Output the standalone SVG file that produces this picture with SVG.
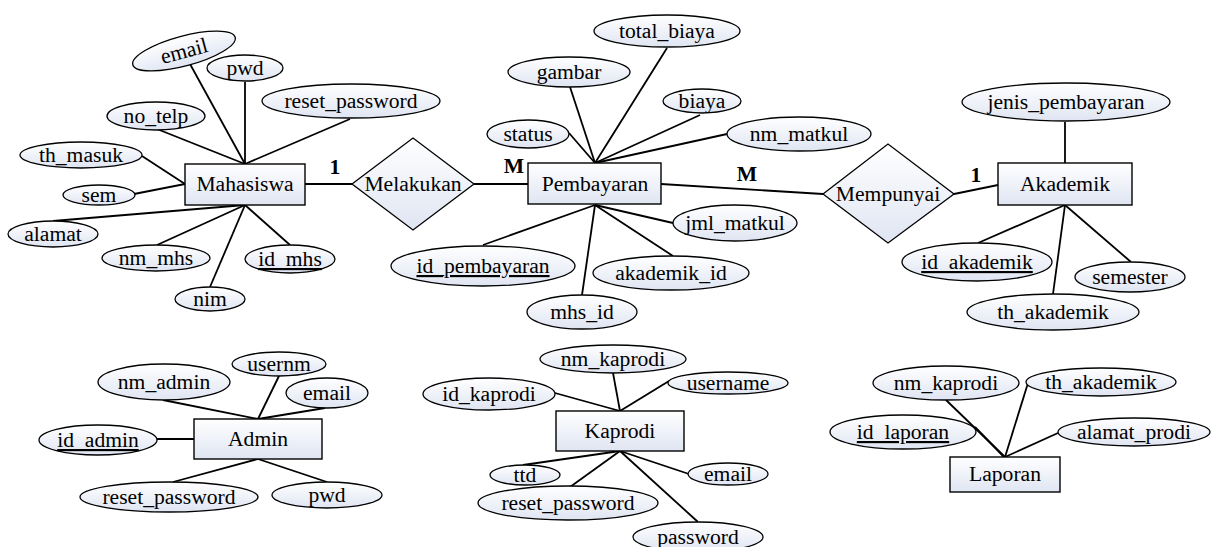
<svg xmlns="http://www.w3.org/2000/svg" width="1211" height="547" viewBox="0 0 1211 547">
  <defs>
    <linearGradient id="fillGrad" x1="0" y1="0" x2="0" y2="1">
      <stop offset="0" stop-color="#ffffff"/>
      <stop offset="1" stop-color="#dfe5f2"/>
    </linearGradient>
    <style>
      .attr { fill: url(#fillGrad); stroke: #000; stroke-width: 1.3; }
      .ent { fill: url(#fillGrad); stroke: #000; stroke-width: 1.4; }
      .rel { fill: url(#fillGrad); stroke: #000; stroke-width: 1.3; }
      .lbl { font-family: "Liberation Serif", "Times New Roman", serif; font-size: 21.6px; fill: #000; text-anchor: middle; }
      .key { text-decoration: underline; }
      .card { font-family: "Liberation Serif", "Times New Roman", serif; font-size: 21.6px; font-weight: bold; fill: #000; text-anchor: middle; }
      .conn line { stroke: #000; stroke-width: 1.8; }
    </style>
  </defs>
  <rect width="1211" height="547" fill="#fff"/>

  <!-- connectors -->
  <g id="connectors" class="conn">
    <!-- Mahasiswa -->
    <line x1="245" y1="164" x2="190" y2="64"/>
    <line x1="245" y1="164" x2="245" y2="82"/>
    <line x1="245" y1="164" x2="157" y2="129"/>
    <line x1="245" y1="164" x2="350" y2="119"/>
    <line x1="185" y1="184" x2="142" y2="156"/>
    <line x1="185" y1="184" x2="134" y2="194"/>
    <line x1="245" y1="205" x2="53" y2="221"/>
    <line x1="245" y1="205" x2="157" y2="245"/>
    <line x1="245" y1="205" x2="210" y2="287"/>
    <line x1="245" y1="205" x2="290" y2="245"/>
    <line x1="305" y1="184" x2="352" y2="184"/>
    <!-- Melakukan / Pembayaran -->
    <line x1="474" y1="184" x2="528" y2="184"/>
    <line x1="595" y1="163" x2="569" y2="133"/>
    <line x1="595" y1="163" x2="570" y2="87"/>
    <line x1="595" y1="163" x2="667" y2="48"/>
    <line x1="595" y1="163" x2="700" y2="115"/>
    <line x1="595" y1="163" x2="727" y2="134"/>
    <line x1="595" y1="205" x2="483" y2="245"/>
    <line x1="595" y1="205" x2="582" y2="295"/>
    <line x1="595" y1="205" x2="673" y2="256"/>
    <line x1="595" y1="205" x2="673" y2="223"/>
    <line x1="661" y1="184" x2="823" y2="194"/>
    <!-- Mempunyai / Akademik -->
    <line x1="954" y1="194" x2="998" y2="185"/>
    <line x1="1065" y1="163" x2="1065" y2="122"/>
    <line x1="1065" y1="205" x2="978" y2="243"/>
    <line x1="1065" y1="205" x2="1053" y2="294"/>
    <line x1="1065" y1="205" x2="1131" y2="262"/>
    <!-- Admin -->
    <line x1="258" y1="419" x2="163" y2="400"/>
    <line x1="258" y1="419" x2="279" y2="376"/>
    <line x1="258" y1="419" x2="325" y2="408"/>
    <line x1="157" y1="439" x2="194" y2="439"/>
    <line x1="258" y1="459" x2="173" y2="482"/>
    <line x1="258" y1="459" x2="327" y2="482"/>
    <!-- Kaprodi -->
    <line x1="620" y1="411" x2="555" y2="393"/>
    <line x1="620" y1="411" x2="613" y2="373"/>
    <line x1="620" y1="411" x2="669" y2="381"/>
    <line x1="620" y1="451" x2="523" y2="465"/>
    <line x1="620" y1="451" x2="570" y2="487"/>
    <line x1="620" y1="451" x2="689" y2="474"/>
    <line x1="620" y1="451" x2="698" y2="522"/>
    <!-- Laporan -->
    <line x1="1005" y1="457" x2="946" y2="400"/>
    <line x1="1004" y1="457" x2="975" y2="427"/>
    <line x1="1005" y1="457" x2="1028" y2="383"/>
    <line x1="1005" y1="457" x2="1058" y2="433"/>
  </g>

  <!-- cardinalities -->
  <g id="cardinalities">
    <text class="card" x="335" y="174">1</text>
    <text class="card" x="514" y="173">M</text>
    <text class="card" x="747" y="181">M</text>
    <text class="card" x="976" y="182">1</text>
  </g>

  <!-- Mahasiswa -->
  <g id="mahasiswa">
    <rect class="ent" x="185" y="164" width="120" height="41"/>
    <text class="lbl" x="245" y="191">Mahasiswa</text>
  </g>
  <g id="mhs-email">
    <ellipse class="attr" cx="184" cy="51" rx="53" ry="15" transform="rotate(-15 184 51)"/>
    <text class="lbl" x="184" y="58" transform="rotate(-15 184 51)">email</text>
  </g>
  <g id="mhs-pwd">
    <ellipse class="attr" cx="245" cy="68" rx="38" ry="13"/>
    <text class="lbl" x="245" y="75">pwd</text>
  </g>
  <g id="mhs-reset_password">
    <ellipse class="attr" cx="351" cy="101" rx="89" ry="17"/>
    <text class="lbl" x="351" y="108">reset_password</text>
  </g>
  <g id="mhs-no_telp">
    <ellipse class="attr" cx="156" cy="116" rx="49" ry="14"/>
    <text class="lbl" x="156" y="123">no_telp</text>
  </g>
  <g id="mhs-th_masuk">
    <ellipse class="attr" cx="81" cy="155" rx="61" ry="13"/>
    <text class="lbl" x="81" y="162">th_masuk</text>
  </g>
  <g id="mhs-sem">
    <ellipse class="attr" cx="99" cy="195" rx="36" ry="10"/>
    <text class="lbl" x="99" y="202">sem</text>
  </g>
  <g id="mhs-alamat">
    <ellipse class="attr" cx="53" cy="234" rx="45" ry="13"/>
    <text class="lbl" x="53" y="241">alamat</text>
  </g>
  <g id="mhs-nm_mhs">
    <ellipse class="attr" cx="156" cy="258" rx="54" ry="13"/>
    <text class="lbl" x="156" y="265">nm_mhs</text>
  </g>
  <g id="mhs-id_mhs">
    <ellipse class="attr" cx="290" cy="259" rx="45" ry="14"/>
    <text class="lbl key" x="290" y="266">id_mhs</text>
  </g>
  <g id="mhs-nim">
    <ellipse class="attr" cx="210" cy="299" rx="35" ry="12"/>
    <text class="lbl" x="210" y="306">nim</text>
  </g>

  <!-- Melakukan -->
  <g id="melakukan">
    <polygon class="rel" points="352,184 413,138 474,184 413,230"/>
    <text class="lbl" x="413" y="191">Melakukan</text>
  </g>

  <!-- Pembayaran -->
  <g id="pembayaran">
    <rect class="ent" x="528" y="163" width="133" height="41"/>
    <text class="lbl" x="595" y="191">Pembayaran</text>
  </g>
  <g id="pb-total_biaya">
    <ellipse class="attr" cx="667" cy="31" rx="73" ry="16"/>
    <text class="lbl" x="667" y="38">total_biaya</text>
  </g>
  <g id="pb-gambar">
    <ellipse class="attr" cx="569" cy="72" rx="61" ry="15"/>
    <text class="lbl" x="569" y="79">gambar</text>
  </g>
  <g id="pb-biaya">
    <ellipse class="attr" cx="702" cy="101" rx="39" ry="12"/>
    <text class="lbl" x="702" y="108">biaya</text>
  </g>
  <g id="pb-status">
    <ellipse class="attr" cx="528" cy="134" rx="41" ry="14"/>
    <text class="lbl" x="528" y="141">status</text>
  </g>
  <g id="pb-nm_matkul">
    <ellipse class="attr" cx="799" cy="134" rx="72" ry="17"/>
    <text class="lbl" x="799" y="141">nm_matkul</text>
  </g>
  <g id="pb-jml_matkul">
    <ellipse class="attr" cx="735" cy="223" rx="62" ry="18"/>
    <text class="lbl" x="735" y="230">jml_matkul</text>
  </g>
  <g id="pb-id_pembayaran">
    <ellipse class="attr" cx="483" cy="266" rx="92" ry="20"/>
    <text class="lbl key" x="483" y="273">id_pembayaran</text>
  </g>
  <g id="pb-akademik_id">
    <ellipse class="attr" cx="671" cy="273" rx="78" ry="17"/>
    <text class="lbl" x="671" y="280">akademik_id</text>
  </g>
  <g id="pb-mhs_id">
    <ellipse class="attr" cx="582" cy="312" rx="55" ry="17"/>
    <text class="lbl" x="582" y="319">mhs_id</text>
  </g>

  <!-- Mempunyai -->
  <g id="mempunyai">
    <polygon class="rel" points="823,194 888,144 954,194 888,243"/>
    <text class="lbl" x="888" y="201">Mempunyai</text>
  </g>

  <!-- Akademik -->
  <g id="akademik">
    <rect class="ent" x="998" y="163" width="134" height="42"/>
    <text class="lbl" x="1065" y="191">Akademik</text>
  </g>
  <g id="ak-jenis_pembayaran">
    <ellipse class="attr" cx="1066" cy="102" rx="104" ry="19"/>
    <text class="lbl" x="1066" y="109">jenis_pembayaran</text>
  </g>
  <g id="ak-id_akademik">
    <ellipse class="attr" cx="977" cy="262" rx="75" ry="19"/>
    <text class="lbl key" x="977" y="269">id_akademik</text>
  </g>
  <g id="ak-semester">
    <ellipse class="attr" cx="1130" cy="277" rx="55" ry="15"/>
    <text class="lbl" x="1130" y="284">semester</text>
  </g>
  <g id="ak-th_akademik">
    <ellipse class="attr" cx="1053" cy="312" rx="86" ry="18"/>
    <text class="lbl" x="1053" y="319">th_akademik</text>
  </g>

  <!-- Admin -->
  <g id="admin">
    <rect class="ent" x="194" y="419" width="128" height="40"/>
    <text class="lbl" x="258" y="446">Admin</text>
  </g>
  <g id="adm-usernm">
    <ellipse class="attr" cx="279" cy="364" rx="47" ry="12"/>
    <text class="lbl" x="279" y="371">usernm</text>
  </g>
  <g id="adm-nm_admin">
    <ellipse class="attr" cx="164" cy="382" rx="66" ry="18"/>
    <text class="lbl" x="164" y="389">nm_admin</text>
  </g>
  <g id="adm-email">
    <ellipse class="attr" cx="327" cy="393" rx="41" ry="15"/>
    <text class="lbl" x="327" y="400">email</text>
  </g>
  <g id="adm-id_admin">
    <ellipse class="attr" cx="98" cy="440" rx="59" ry="15"/>
    <text class="lbl key" x="98" y="447">id_admin</text>
  </g>
  <g id="adm-reset_password">
    <ellipse class="attr" cx="169" cy="497" rx="89" ry="15"/>
    <text class="lbl" x="169" y="504">reset_password</text>
  </g>
  <g id="adm-pwd">
    <ellipse class="attr" cx="327" cy="495" rx="55" ry="13"/>
    <text class="lbl" x="327" y="502">pwd</text>
  </g>

  <!-- Kaprodi -->
  <g id="kaprodi">
    <rect class="ent" x="556" y="411" width="128" height="40"/>
    <text class="lbl" x="620" y="438">Kaprodi</text>
  </g>
  <g id="kp-nm_kaprodi">
    <ellipse class="attr" cx="613" cy="359" rx="73" ry="14"/>
    <text class="lbl" x="613" y="366">nm_kaprodi</text>
  </g>
  <g id="kp-username">
    <ellipse class="attr" cx="728" cy="383" rx="60" ry="11"/>
    <text class="lbl" x="728" y="390">username</text>
  </g>
  <g id="kp-id_kaprodi">
    <ellipse class="attr" cx="489" cy="394" rx="66" ry="16"/>
    <text class="lbl" x="489" y="401">id_kaprodi</text>
  </g>
  <g id="kp-ttd">
    <ellipse class="attr" cx="525" cy="475" rx="35" ry="10"/>
    <text class="lbl" x="525" y="482">ttd</text>
  </g>
  <g id="kp-email">
    <ellipse class="attr" cx="728" cy="474" rx="40" ry="11"/>
    <text class="lbl" x="728" y="481">email</text>
  </g>
  <g id="kp-reset_password">
    <ellipse class="attr" cx="568" cy="503" rx="90" ry="17"/>
    <text class="lbl" x="568" y="510">reset_password</text>
  </g>
  <g id="kp-password">
    <ellipse class="attr" cx="698" cy="537" rx="65" ry="15"/>
    <text class="lbl" x="698" y="544">password</text>
  </g>

  <!-- Laporan -->
  <g id="laporan">
    <rect class="ent" x="950" y="457" width="110" height="35"/>
    <text class="lbl" x="1005" y="481">Laporan</text>
  </g>
  <g id="lp-nm_kaprodi">
    <ellipse class="attr" cx="946" cy="383" rx="73" ry="17"/>
    <text class="lbl" x="946" y="390">nm_kaprodi</text>
  </g>
  <g id="lp-th_akademik">
    <ellipse class="attr" cx="1101" cy="382" rx="75" ry="14"/>
    <text class="lbl" x="1101" y="389">th_akademik</text>
  </g>
  <g id="lp-id_laporan">
    <ellipse class="attr" cx="903" cy="432" rx="73" ry="17"/>
    <text class="lbl key" x="903" y="439">id_laporan</text>
  </g>
  <g id="lp-alamat_prodi">
    <ellipse class="attr" cx="1134" cy="432" rx="76" ry="14"/>
    <text class="lbl" x="1134" y="439">alamat_prodi</text>
  </g>
</svg>
